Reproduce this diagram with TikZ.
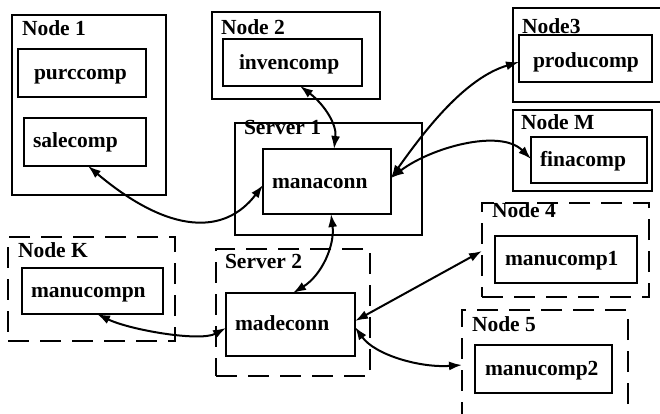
\documentclass[tikz,border=0pt]{standalone}
\usepackage{fontspec}
\setmainfont{Liberation Serif}
\usetikzlibrary{arrows.meta,calc}

\tikzset{
  box/.style={draw, line width=2pt, rectangle, inner sep=0pt, outer sep=0pt, anchor=north west},
  dbox/.style={box, dash pattern=on 21pt off 11pt},
  txt/.style={anchor=base west, inner sep=0pt, outer sep=0pt,
    font=\fontsize{21.5pt}{23pt}\selectfont\bfseries},
  link/.style={line width=2pt, {Latex[length=13pt,width=9pt]}-{Latex[length=13pt,width=9pt]}}
}

\begin{document}
\begin{tikzpicture}[x=1pt,y=-1pt]
\clip (0,0) rectangle (660,414);
\fill[white] (0,0) rectangle (660,414);

% Node 1
\node[box, minimum width=154pt, minimum height=180pt] (node1) at (12,15) {};
\node[txt] (node1-l) at (22,36) {Node 1};
\node[box, minimum width=128pt, minimum height=48pt] (purccomp) at (18,49) {};
\node[txt] (purccomp-l) at (34,80) {purccomp};
\node[box, minimum width=122pt, minimum height=48pt] (salecomp) at (24,118) {};
\node[txt] (salecomp-l) at (33,148) {salecomp};

% Node 2
\node[box, minimum width=168pt, minimum height=87pt] (node2) at (212,12) {};
\node[txt] (node2-l) at (221,35) {Node 2};
\node[box, minimum width=139pt, minimum height=47pt] (invencomp) at (223,39) {};
\node[txt] (invencomp-l) at (239,70) {invencomp};

% Server 1
\node[box, minimum width=187pt, minimum height=112pt] (server1) at (235,123) {};
\node[txt] (server1-l) at (244,135) {Server 1};
\node[box, fill=white, minimum width=128pt, minimum height=65pt] (manaconn) at (263,149) {};
\node[txt] (manaconn-l) at (272,188) {manaconn};

% Node 3
\node[box, minimum width=160pt, minimum height=94pt] (node3) at (513,8) {};
\node[txt] (node3-l) at (522,34) {Node3};
\node[box, fill=white, minimum width=133pt, minimum height=47pt] (producomp) at (519,35) {};
\node[txt] (producomp-l) at (533,68) {producomp};

% Node M
\node[box, minimum width=139pt, minimum height=81pt] (nodeM) at (513,110) {};
\node[txt] (nodeM-l) at (521,130) {Node M};
\node[box, minimum width=116pt, minimum height=46pt] (finacomp) at (531,137) {};
\node[txt] (finacomp-l) at (540,167) {finacomp};

% Node K
\node[dbox, minimum width=167pt, minimum height=104pt] (nodeK) at (8,237) {};
\node[txt] (nodeK-l) at (18,257) {Node K};
\node[box, minimum width=141pt, minimum height=46pt] (manucompn) at (22,268) {};
\node[txt] (manucompn-l) at (31,297) {manucompn};

% Server 2
\node[dbox, minimum width=154pt, minimum height=127pt] (server2) at (216,249) {};
\node[txt] (server2-l) at (225,268) {Server 2};
\node[box, minimum width=129pt, minimum height=63pt] (madeconn) at (226,293) {};
\node[txt] (madeconn-l) at (235,330) {madeconn};

% Node 4
\node[dbox, minimum width=167pt, minimum height=94pt] (node4) at (482,203) {};
\node[txt] (node4-l) at (492,217) {Node 4};
\node[box, minimum width=142pt, minimum height=47pt] (manucomp1) at (495,236) {};
\node[txt] (manucomp1-l) at (505,265) {manucomp1};

% Node 5
\node[dbox, minimum width=166pt, minimum height=120pt] (node5) at (462,310) {};
\node[txt] (node5-l) at (472,331) {Node 5};
\node[box, minimum width=137pt, minimum height=48pt] (manucomp2) at (475,345) {};
\node[txt] (manucomp2-l) at (485,375) {manucomp2};

% Connections
\draw[link] ($(salecomp.south west)+(64,0)$) .. controls (170,235) and (225,235) .. ($(manaconn.north west)+(0,36)$);
\draw[link] ($(invencomp.south west)+(77,0)$) .. controls (325,105) and (337,125) .. ($(manaconn.north west)+(71,0)$);
\draw[link] ($(manaconn.north east)+(0,29)$) .. controls (425,130) and (465,78) .. ($(producomp.north west)+(0,27)$);
\draw[link] ($(manaconn.north east)+(0,29)$) .. controls (430,148) and (500,128) .. ($(finacomp.north west)+(0,22)$);
\draw[link] ($(manaconn.south west)+(68,0)$) .. controls (335,245) and (322,275) .. ($(madeconn.north west)+(67,0)$);
\draw[link] ($(manucompn.south west)+(75,0)$) .. controls (130,330) and (200,342) .. ($(madeconn.north west)+(0,35)$);
\draw[link] ($(madeconn.north east)+(0,28)$) -- ($(node4.north west)+(0,48)$);
\draw[link] ($(madeconn.north east)+(0,34)$) .. controls (375,355) and (420,368) .. ($(node5.north west)+(0,55)$);
\end{tikzpicture}
\end{document}
